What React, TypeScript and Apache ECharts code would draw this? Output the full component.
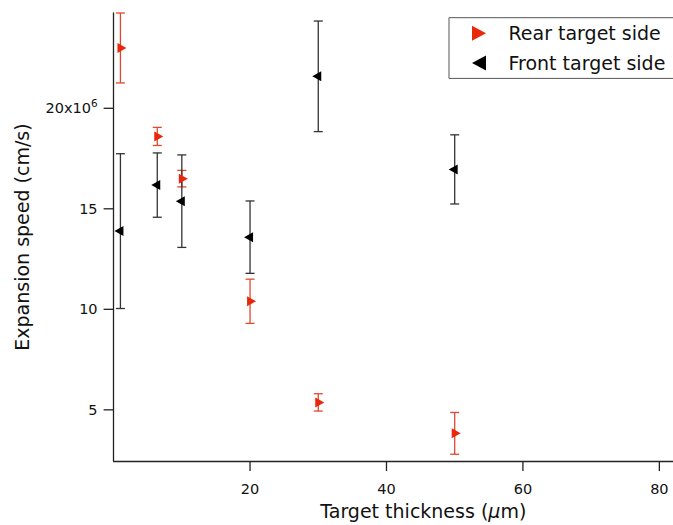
import React, { useEffect, useRef } from "react";
import * as echarts from "echarts";

// Target thickness (µm)
const thickness = [1, 6.4, 10, 20, 30, 50];
// Expansion speed, in units of 10^6 cm/s
const rearSpeed = [23.0, 18.6, 16.5, 10.4, 5.37, 3.83];
const rearErr = [1.74, 0.45, 0.41, 1.1, 0.43, 1.04];
const frontSpeed = [13.89, 16.18, 15.38, 13.59, 21.59, 16.96];
const frontErr = [3.85, 1.6, 2.3, 1.8, 2.75, 1.72];

const xTicks = [20, 40, 60, 80];
const yTicks = [5, 10, 15, 20];
const seriesNames = ["Rear target side", "Front target side"];

const FONT = "DejaVu Sans";
const RED = "#e8280a";
const RED_BAR = "#e0482e";
const BLACK = "#000000";
const BLACK_BAR = "#333333";
const AXIS_COLOR = "#222";
const X_MIN = 0;
const Y_MIN = 2.45;

function errorSeries(name: string, speeds: number[], errs: number[], color: string) {
  const data = thickness.map((x, i) => [x, speeds[i] - errs[i], speeds[i] + errs[i]]);
  return {
    type: "custom",
    name,
    data,
    silent: true,
    z: 2,
    encode: { x: 0, y: [1, 2] },
    renderItem: (params: any, api: any) => {
      const x = api.value(0);
      const lo = api.coord([x, api.value(1)]);
      const hi = api.coord([x, api.value(2)]);
      const half = 4.5;
      const style = { stroke: color, lineWidth: 1.3, fill: "none" };
      return {
        type: "group",
        children: [
          { type: "line", shape: { x1: lo[0], y1: lo[1], x2: hi[0], y2: hi[1] }, style },
          { type: "line", shape: { x1: lo[0] - half, y1: lo[1], x2: lo[0] + half, y2: lo[1] }, style },
          { type: "line", shape: { x1: hi[0] - half, y1: hi[1], x2: hi[0] + half, y2: hi[1] }, style },
        ],
      };
    },
  };
}

// Outward axis ticks drawn through the axis scales
function tickSeries(name: string, values: number[], vertical: boolean) {
  const data = values.map((v) => (vertical ? [X_MIN, v] : [v, Y_MIN]));
  return {
    type: "custom",
    name,
    data,
    silent: true,
    clip: false,
    z: 4,
    encode: { x: 0, y: 1 },
    renderItem: (params: any, api: any) => {
      const p = api.coord([api.value(0), api.value(1)]);
      const style = { stroke: AXIS_COLOR, lineWidth: 1.3 };
      const shape = vertical
        ? { x1: p[0] - 10, y1: p[1], x2: p[0], y2: p[1] }
        : { x1: p[0], y1: p[1], x2: p[0], y2: p[1] + 10 };
      return { type: "line", shape, style };
    },
  };
}

export default function App() {
  const ref = useRef<HTMLDivElement>(null);
  useEffect(() => {
    if (!ref.current) return;
    const chart = echarts.init(ref.current, null, { renderer: "svg" });
    chart.setOption({
      animation: false,
      backgroundColor: "#ffffff",
      textStyle: { fontFamily: FONT },
      grid: { left: 113.6, right: 0, top: 13, bottom: 60, containLabel: false },
      legend: {
        orient: "vertical",
        left: 449,
        top: 17.7,
        padding: [6, 40, 6, 23],
        borderColor: "#555",
        borderWidth: 1,
        backgroundColor: "#fff",
        itemWidth: 15,
        itemHeight: 15,
        itemGap: 10.7,
        textStyle: { fontFamily: FONT, fontSize: 19, lineHeight: 18, color: "#111", padding: [0, 0, 0, 17] },
        data: [
          { name: seriesNames[0], icon: "path://M0,0 L14,7.5 L0,15 Z", itemStyle: { color: RED } },
          { name: seriesNames[1], icon: "path://M14,0 L0,7.5 L14,15 Z", itemStyle: { color: BLACK } },
        ],
      },
      xAxis: {
        type: "value",
        min: X_MIN,
        max: 82,
        name: "Target thickness ({i|µ}m)",
        nameLocation: "middle",
        nameGap: 34,
        nameTextStyle: {
          fontFamily: FONT,
          fontSize: 19,
          color: "#111",
          padding: [0, 0, 0, 60],
          rich: { i: { fontFamily: FONT, fontSize: 19, fontStyle: "italic", color: "#111" } },
        },
        axisLine: { show: true, lineStyle: { color: AXIS_COLOR, width: 1.3 } },
        axisTick: { show: false },
        axisLabel: {
          customValues: xTicks,
          margin: 20,
          fontFamily: FONT,
          fontSize: 14.5,
          color: "#111",
        },
        splitLine: { show: false },
      },
      yAxis: {
        type: "value",
        min: Y_MIN,
        max: 24.74,
        name: "Expansion speed (cm/s)",
        nameLocation: "middle",
        nameGap: 82,
        nameTextStyle: { fontFamily: FONT, fontSize: 19, color: "#111" },
        axisLine: { show: true, lineStyle: { color: AXIS_COLOR, width: 1.3 } },
        axisTick: { show: false },
        axisLabel: {
          customValues: yTicks,
          margin: 16,
          fontFamily: FONT,
          fontSize: 14.5,
          color: "#111",
          formatter: (v: number) => (v === 20 ? "20x10{sup|6}" : String(v)),
          rich: {
            sup: { fontSize: 10.5, fontFamily: FONT, color: "#111", verticalAlign: "top", padding: [0, 0, 10, 0] },
          },
        },
        splitLine: { show: false },
      },
      series: [
        tickSeries("x ticks", xTicks, false),
        tickSeries("y ticks", yTicks, true),
        errorSeries(seriesNames[0] + " error", rearSpeed, rearErr, RED_BAR),
        errorSeries(seriesNames[1] + " error", frontSpeed, frontErr, BLACK_BAR),
        {
          type: "scatter",
          name: seriesNames[0],
          data: thickness.map((x, i) => [x, rearSpeed[i]]),
          symbol: "triangle",
          symbolSize: [10, 9],
          symbolRotate: -90,
          symbolOffset: [1.5, 0],
          itemStyle: { color: RED, opacity: 1 },
          z: 3,
        },
        {
          type: "scatter",
          name: seriesNames[1],
          data: thickness.map((x, i) => [x, frontSpeed[i]]),
          symbol: "triangle",
          symbolSize: [10, 9],
          symbolRotate: 90,
          symbolOffset: [-1.5, 0],
          itemStyle: { color: BLACK, opacity: 1 },
          z: 3,
        },
      ],
    });
    return () => chart.dispose();
  }, []);
  return <div ref={ref} style={{ position: "fixed", left: 0, top: 0, width: 673, height: 525 }} />;
}
